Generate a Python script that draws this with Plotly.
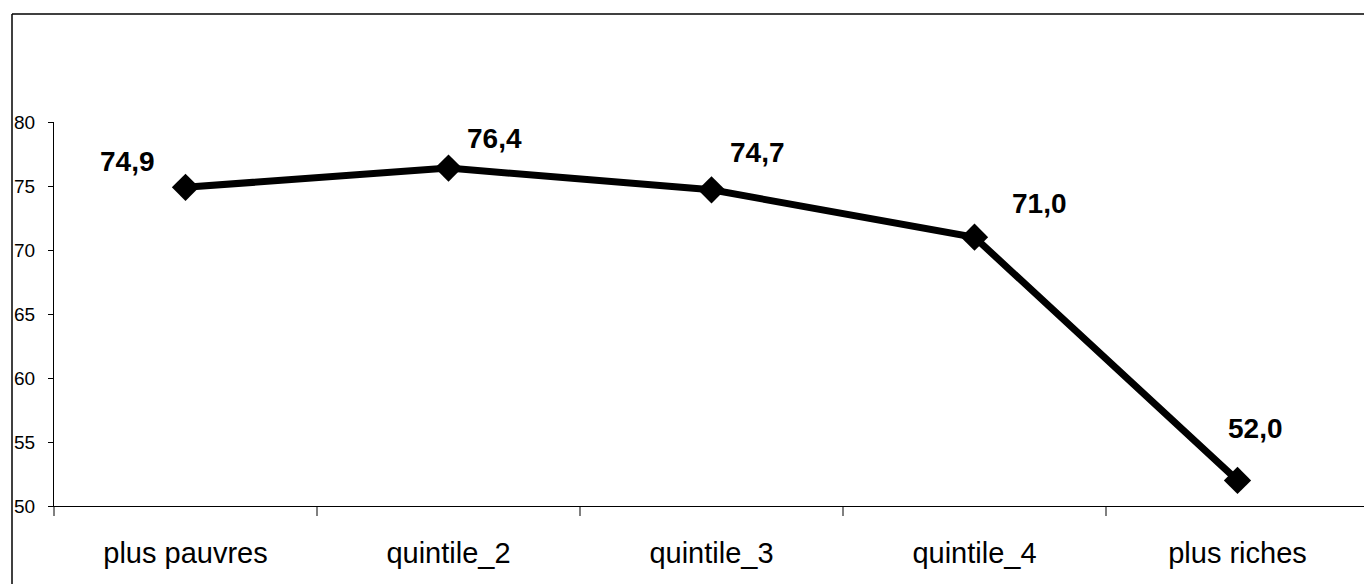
import plotly.graph_objects as go

categories = ["plus pauvres", "quintile_2", "quintile_3", "quintile_4", "plus riches"]
values = [74.9, 76.4, 74.7, 71.0, 52.0]
labels = ["74,9", "76,4", "74,7", "71,0", "52,0"]
label_dx = [-58, 46, 46, 65, 18]
label_dy = [26, 30, 37, 34, 52]

fig = go.Figure()
fig.add_trace(go.Scatter(
    x=categories, y=values, mode="lines+markers",
    line=dict(color="black", width=7),
    marker=dict(symbol="diamond", size=21, color="black"),
    hoverinfo="skip", showlegend=False,
))

for c, v, t, dx, dy in zip(categories, values, labels, label_dx, label_dy):
    fig.add_annotation(x=c, y=v, text="<b>%s</b>" % t, showarrow=False,
                       xshift=dx, yshift=dy,
                       font=dict(family="Liberation Sans, Arial", size=28, color="black"))

W, H = 1364, 584
L, T, B = 54, 122, 78
pw = W - L
ph = H - T - B
bx = (12 - L) / pw
by = (H - B - 14) / ph
# outer chart-area border: left and top edges only (right/bottom fall outside the view)
fig.add_shape(type="line", xref="paper", yref="paper",
              x0=bx, x1=bx, y0=-1, y1=by,
              line=dict(color="black", width=1.5))
fig.add_shape(type="line", xref="paper", yref="paper",
              x0=bx, x1=1.0, y0=by, y1=by,
              line=dict(color="black", width=1.5))

fig.update_layout(
    width=W, height=H,
    margin=dict(l=L, r=0, t=T, b=B, pad=0),
    paper_bgcolor="white", plot_bgcolor="white",
    font=dict(family="Liberation Sans, Arial", color="black"),
    xaxis=dict(
        type="category", range=[-0.5, -0.5 + pw / 263.0],
        showline=True, linecolor="black", linewidth=1.2,
        ticks="outside", tickson="boundaries", ticklen=9, tickcolor="#808080", tickwidth=2,
        tickfont=dict(size=29), ticklabelstandoff=21,
        showgrid=False, zeroline=False, fixedrange=True,
    ),
    yaxis=dict(
        range=[50, 80], tickvals=[50, 55, 60, 65, 70, 75, 80],
        showline=True, linecolor="black", linewidth=1.2,
        ticks="outside", ticklen=5, tickcolor="black",
        tickfont=dict(size=19), ticklabelstandoff=9,
        showgrid=False, zeroline=False, fixedrange=True,
    ),
)

fig.write_html(
    "out.html",
    config={"displayModeBar": False},
    post_script="document.body.style.margin='0';document.body.style.overflow='hidden';"
                "document.documentElement.style.overflow='hidden';",
)
